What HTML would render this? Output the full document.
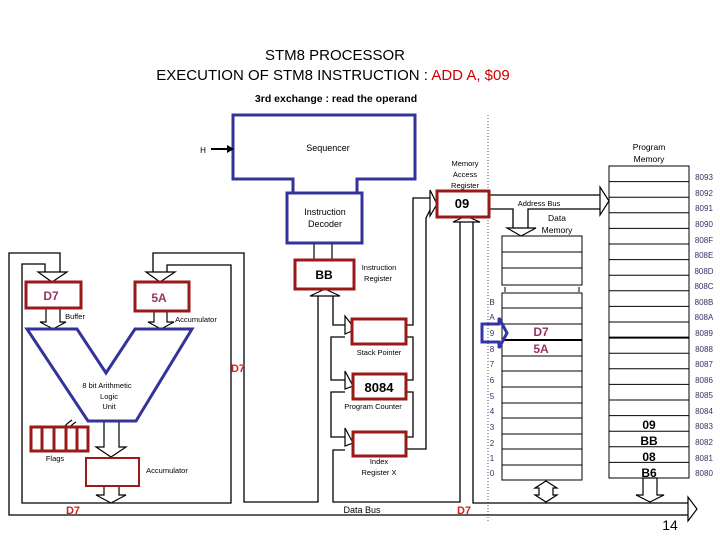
<!DOCTYPE html>
<html><head><meta charset="utf-8"><style>
html,body{margin:0;padding:0;background:#fff;}
svg{display:block;}
text{font-family:"Liberation Sans",sans-serif;}
</style></head><body>
<svg width="720" height="540" viewBox="0 0 720 540" xmlns="http://www.w3.org/2000/svg">
<g text-anchor="middle" font-size="15">
<text x="335" y="60">STM8 PROCESSOR</text>
<text x="333" y="80">EXECUTION OF STM8 INSTRUCTION : <tspan fill="#cc0000">ADD A, $09</tspan></text>
</g>
<text x="336" y="102" font-size="10.5" font-weight="bold" text-anchor="middle">3rd exchange : read the operand</text>

<!-- dotted divider -->
<line x1="488" y1="115" x2="488" y2="522" stroke="#555" stroke-width="1" stroke-dasharray="1,2"/>

<g fill="none" stroke="#000" stroke-width="1.3">
<!-- left loops -->
<polyline points="60,272 60,253 9,253 9,515 688,515"/>
<polyline points="45,272 45,264 22,264 22,503 231,503 231,265 167,265 167,272"/>
<polyline points="153,272 153,253 244,253 244,502 318,502 318,296"/>
<polyline points="333,296 333,325 345,325"/>
<polyline points="345,337 331,337 331,380 345,380"/>
<polyline points="345,392 331,392 331,437 345,437"/>
<polyline points="345,450 333,450 333,502 460,502 460,222"/>
<polyline points="473,222 473,503 688,503"/>
<!-- right side of registers -->
<polyline points="406,325 413,325 413,198 430,198"/>
<polyline points="406,337 413,337 413,380 406,380"/>
<polyline points="406,392 413,392 413,437 406,437"/>
<polyline points="406,449 426,449 426,218 430,210"/>
<!-- address bus -->
<polyline points="490,195 600,195"/>
<polyline points="490,209 513,209 513,228"/>
<polyline points="600,209 528,209 528,228"/>
</g>
<g fill="#fff" stroke="#000" stroke-width="1.2">
<!-- arrowheads -->
<polygon points="38,272 67,272 52,282"/>
<polygon points="146,272 175,272 160,282"/>
<polygon points="310,296 340,296 325,289"/>
<polygon points="345,316 345,334 352,331 352,325"/>
<polygon points="345,371 345,389 353,386"/>
<polygon points="345,428 345,446 353,443"/>
<polygon points="430,190 430,216 437,204"/>
<polygon points="453,222 480,222 466,216"/>
<polygon points="600,187 600,215 609,201"/>
<polygon points="507,228 536,228 521,236"/>
<polygon points="688,497 688,521 697,509"/>
<polygon points="310,243 336,243 323,236"/>
<!-- alu arrows -->
<polyline points="46,309 46,322 40,322 53,329 66,322 60,322 60,309"/>
<polyline points="154,311 154,322 148,322 161,329 174,322 167,322 167,311"/>
<polyline points="104,421 104,447 96,447 111,457 126,447 119,447 119,421"/>
<polyline points="104,486 104,495 96,495 111,503 126,495 119,495 119,486"/>
<polyline points="314,243 314,260" fill="none"/><polyline points="332,243 332,260" fill="none"/>
<!-- memory arrows -->
<polygon points="546,481 557,488 553,488 553,495 557,495 546,502 535,495 539,495 539,488 535,488"/>
<polygon points="643,478 643,495 636,495 650,502 664,495 657,495 657,478"/>
<path d="M72,420 Q60,428 60,438 L56,438 L63,447 L70,438 L66,438 Q66,428 76,422" />
</g>

<!-- sequencer / decoder -->
<g fill="none" stroke="#333399" stroke-width="3">
<polyline points="293,193 293,179 233,179 233,115 415,115 415,179 357,179 357,193"/>
<rect x="287" y="193" width="75" height="50" fill="#fff"/>
<polygon points="27,329 77,329 106,373 135,329 192,329 136,421 88,421"/>
</g>
<polyline points="211,149 229,149" stroke="#000" stroke-width="2"/>
<polygon points="227,145 234,149 227,153" fill="#000"/>
<text x="203" y="153" font-size="8" text-anchor="middle">H</text>
<g font-size="9" text-anchor="middle">
<text x="328" y="151">Sequencer</text>
<text x="325" y="215">Instruction</text>
<text x="325" y="227">Decoder</text>
</g>

<!-- red boxes -->
<g fill="#fff" stroke="#9a1a1a" stroke-width="3">
<rect x="295" y="260" width="59" height="29"/>
<rect x="26" y="282" width="55" height="26"/>
<rect x="135" y="282" width="54" height="29"/>
<rect x="352" y="319" width="54" height="25"/>
<rect x="353" y="374" width="53" height="25"/>
<rect x="353" y="432" width="53" height="24"/>
<rect x="437" y="191" width="52" height="26"/>
<rect x="31" y="427" width="57" height="24"/>
<rect x="86" y="458" width="53" height="28" stroke-width="2"/>
</g>
<g stroke="#9a1a1a" stroke-width="3"><line x1="42" y1="427" x2="42" y2="451"/><line x1="54" y1="427" x2="54" y2="451"/><line x1="66" y1="427" x2="66" y2="451"/><line x1="77" y1="427" x2="77" y2="451"/></g>

<g font-weight="bold" text-anchor="middle">
<text x="324" y="279" font-size="12">BB</text>
<text x="51" y="300" font-size="12" fill="#993366">D7</text>
<text x="159" y="302" font-size="12" fill="#993366">5A</text>
<text x="379" y="392" font-size="13" font-family="Liberation Serif">8084</text>
<text x="462" y="208" font-size="13" font-family="Liberation Serif">09</text>
<text x="73" y="514" font-size="11" fill="#cc2222">D7</text>
<text x="238" y="372" font-size="11" fill="#cc2222">D7</text>
<text x="464" y="514" font-size="11" fill="#cc2222">D7</text>
</g>
<g font-size="7.5" text-anchor="middle">
<text x="379" y="270">Instruction</text>
<text x="378" y="281">Register</text>
<text x="379" y="355">Stack Pointer</text>
<text x="373" y="409">Program Counter</text>
<text x="379" y="464">Index</text>
<text x="379" y="475">Register X</text>
<text x="465" y="166">Memory</text>
<text x="465" y="177">Access</text>
<text x="465" y="188">Register</text>
<text x="75" y="319">Buffer</text>
<text x="196" y="322">Accumulator</text>
<text x="107" y="388">8 bit Arithmetic</text>
<text x="109" y="399">Logic</text>
<text x="109" y="409">Unit</text>
<text x="55" y="461">Flags</text>
<text x="167" y="473">Accumulator</text>
<text x="539" y="206">Address Bus</text>
<text x="557" y="221" font-size="8.5">Data</text>
<text x="557" y="233" font-size="8.5">Memory</text>
<text x="649" y="150" font-size="8.5">Program</text>
<text x="649" y="162" font-size="8.5">Memory</text>
<text x="362" y="513" font-size="9">Data Bus</text>
</g>

<!-- data memory -->
<g fill="none" stroke="#000" stroke-width="1">
<rect x="502" y="236" width="80" height="49"/>
<line x1="502" y1="252" x2="582" y2="252"/><line x1="502" y1="268" x2="582" y2="268"/>
<line x1="505" y1="287" x2="505" y2="292"/><line x1="579" y1="287" x2="579" y2="292"/>
<rect x="502" y="293" width="80" height="187"/>
<path d="M502,308H582M502,324H582M502,356H582M502,371H582M502,387H582M502,403H582M502,418H582M502,434H582M502,449H582M502,465H582"/>
<line x1="502" y1="340" x2="582" y2="340" stroke-width="2"/>
<!-- program memory -->
<rect x="609" y="166" width="80" height="312"/>
<path d="M609,181.6H689M609,197.2H689M609,212.8H689M609,228.4H689M609,244H689M609,259.6H689M609,275.2H689M609,290.8H689M609,306.4H689M609,322H689M609,353.2H689M609,368.8H689M609,384.4H689M609,400H689M609,415.6H689M609,431.2H689M609,446.8H689M609,462.4H689"/>
<line x1="609" y1="337.6" x2="689" y2="337.6" stroke-width="2"/>
</g>
<path d="M482,324H499V318L507,333L499,348V342H482Z" fill="none" stroke="#3333aa" stroke-width="3"/>
<g font-size="8" fill="#333366" text-anchor="middle">
<text x="492" y="305">B</text><text x="492" y="320">A</text><text x="492" y="336">9</text><text x="492" y="352">8</text>
<text x="492" y="367">7</text><text x="492" y="383">6</text><text x="492" y="399">5</text><text x="492" y="414">4</text>
<text x="492" y="430">3</text><text x="492" y="446">2</text><text x="492" y="461">1</text><text x="492" y="476">0</text>
</g>
<g font-weight="bold" font-size="12" fill="#993366" text-anchor="middle">
<text x="541" y="336">D7</text><text x="541" y="353">5A</text>
</g>
<g font-size="8" fill="#333366" text-anchor="middle">
<text x="704" y="180">8093</text><text x="704" y="196">8092</text><text x="704" y="211">8091</text><text x="704" y="227">8090</text>
<text x="704" y="243">808F</text><text x="704" y="258">808E</text><text x="704" y="274">808D</text><text x="704" y="289">808C</text>
<text x="704" y="305">808B</text><text x="704" y="320">808A</text><text x="704" y="336">8089</text><text x="704" y="352">8088</text>
<text x="704" y="367">8087</text><text x="704" y="383">8086</text><text x="704" y="398">8085</text><text x="704" y="414">8084</text>
<text x="704" y="429">8083</text><text x="704" y="445">8082</text><text x="704" y="461">8081</text><text x="704" y="476">8080</text>
</g>
<g font-weight="bold" font-size="12" font-family="Liberation Serif" text-anchor="middle">
<text x="649" y="429">09</text><text x="649" y="445">BB</text><text x="649" y="461">08</text><text x="649" y="477">B6</text>
</g>
<text x="670" y="530" font-size="14" font-family="Liberation Serif" text-anchor="middle">14</text>
</svg>
</body></html>
